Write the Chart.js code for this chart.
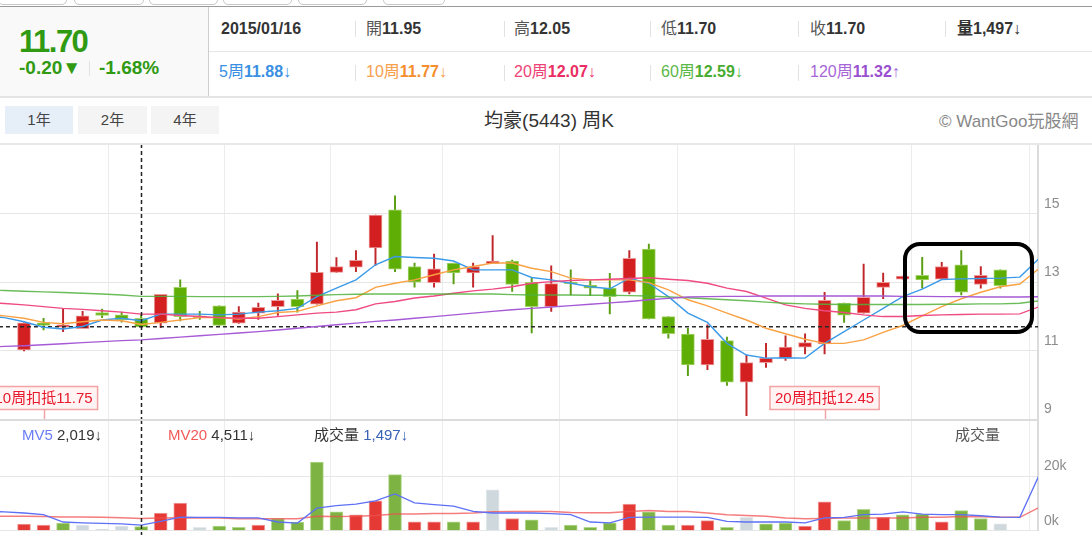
<!DOCTYPE html>
<html>
<head>
<meta charset="utf-8">
<title>均豪(5443) 周K</title>
<script src="https://cdn.jsdelivr.net/npm/chart.js@4.4.1/dist/chart.umd.min.js"></script>
<style>
  body { margin: 0; width: 1092px; height: 535px; overflow: hidden; background: #fff; position: relative;
         font-family: "Liberation Sans", Arial, "Noto Sans CJK TC", sans-serif; color: #333; }
  .a { position: absolute; white-space: nowrap; }
  .tab { position: absolute; top: -7px; height: 10px; border: 1px solid #c8c8c8; border-radius: 5px; background: #fff; }
  .sep { position: absolute; width: 1px; background: #e2e2e2; }
  .row1 { top: 19px; height: 20px; line-height: 20px; font-size: 16px; }
  .row2 { top: 62px; height: 20px; line-height: 20px; font-size: 16px; }
  .lbl { color: #555; }
  b { font-weight: bold; }
  .btn { position: absolute; top: 106px; height: 28px; line-height: 28px; text-align: center; font-size: 15px; color: #444; background: #f4f4f4; }
  .vlab { top: 426px; height: 18px; line-height: 18px; font-size: 15px; }
  #price { position: absolute; left: 0; top: 144px; }
  #volume { position: absolute; left: 0; top: 420px; }
</style>
</head>
<body>
<!-- page chrome above the chart -->
<div class="tab" style="left:-2px;width:67px"></div>
<div class="tab" style="left:74px;width:68px"></div>
<div class="tab" style="left:149px;width:67px"></div>
<div class="tab" style="left:223px;width:67px"></div>
<div class="tab" style="left:298px;width:67px"></div>
<div class="tab" style="left:383px;width:60px"></div>
<div class="a" style="left:0;top:6px;width:1092px;height:1px;background:#9a9a9a"></div>
<div class="a" style="left:0;top:7px;width:208px;height:89px;background:#f9f9f9;border-right:1px solid #cfcfcf"></div>
<div class="a" style="left:209px;top:51px;width:883px;height:1px;background:#e6e6e6"></div>
<div class="a" style="left:0;top:96px;width:1092px;height:2px;background:#e4e4e4"></div>

<div class="a" style="left:19px;top:25px;height:34px;line-height:34px;font-size:31px;font-weight:bold;color:#2f9a12;letter-spacing:-1.5px">11.70</div>
<div class="a" style="left:19px;top:57px;height:22px;line-height:22px;font-size:19px;font-weight:bold;color:#2f9a12">-0.20▼</div>
<div class="sep" style="left:89px;top:61px;height:15px"></div>
<div class="a" style="left:99px;top:57px;height:22px;line-height:22px;font-size:19px;font-weight:bold;color:#2f9a12">-1.68%</div>

<div class="sep" style="left:355px;top:21px;height:16px"></div>
<div class="sep" style="left:504px;top:21px;height:16px"></div>
<div class="sep" style="left:650px;top:21px;height:16px"></div>
<div class="sep" style="left:798px;top:21px;height:16px"></div>
<div class="sep" style="left:945px;top:21px;height:16px"></div>
<div class="sep" style="left:355px;top:65px;height:16px"></div>
<div class="sep" style="left:504px;top:65px;height:16px"></div>
<div class="sep" style="left:650px;top:65px;height:16px"></div>
<div class="sep" style="left:798px;top:65px;height:16px"></div>

<div class="a row1" style="left:221px"><b>2015/01/16</b></div>
<div class="a row1" style="left:366px"><span class="lbl">開</span><b>11.95</b></div>
<div class="a row1" style="left:514px"><span class="lbl">高</span><b>12.05</b></div>
<div class="a row1" style="left:661px"><span class="lbl">低</span><b>11.70</b></div>
<div class="a row1" style="left:810px"><span class="lbl">收</span><b>11.70</b></div>
<div class="a row1" style="left:957px"><b>量1,497</b>↓</div>

<div class="a row2" style="left:219px;color:#3a8fe2">5周<b>11.88</b>↓</div>
<div class="a row2" style="left:366px;color:#f7a04e">10周<b style="color:#f58e2c">11.77</b>↓</div>
<div class="a row2" style="left:514px;color:#ee4377">20周<b style="color:#ea2d62">12.07</b>↓</div>
<div class="a row2" style="left:661px;color:#5db84a">60周<b style="color:#48ac30">12.59</b>↓</div>
<div class="a row2" style="left:810px;color:#a766d8">120周<b style="color:#9a4fd0">11.32</b>↑</div>

<div class="btn" style="left:5px;width:68px;background:#e6eef8">1年</div>
<div class="btn" style="left:78px;width:69px">2年</div>
<div class="btn" style="left:151px;width:68px">4年</div>
<div class="a" style="left:449px;width:200px;top:109px;height:24px;line-height:24px;font-size:19px;text-align:center;color:#333">均豪(5443) 周K</div>
<div class="a" style="left:939px;top:111px;height:22px;line-height:22px;font-size:17px;color:#888">© WantGoo玩股網</div>

<canvas id="price" width="1092" height="276"></canvas>
<canvas id="volume" width="1092" height="115"></canvas>

<!-- frame lines of the two panels -->
<div class="a" style="left:0;top:143px;width:1092px;height:2px;background:#e8e8e8"></div>
<div class="a" style="left:0;top:419px;width:1039px;height:2px;background:#dcdcdc"></div>

<div class="a vlab" style="left:22px"><span style="color:#6a7df5">MV5</span> 2,019↓</div>
<div class="a vlab" style="left:168px"><span style="color:#f25a5a">MV20</span> 4,511↓</div>
<div class="a vlab" style="left:314px">成交量 <span style="color:#3a62b5">1,497↓</span></div>
<div class="a vlab" style="left:955px;color:#555">成交量</div>

<!-- hand-drawn highlight from the screenshot -->
<div class="a" style="left:903px;top:242px;width:131px;height:92px;box-sizing:border-box;border:4px solid #000;border-radius:17px"></div>

<script>
// weekly candles, index 0 = first week shown
const weekOpen  = [11.03, 11.82, 11.69, 11.65, 12.12, 12.05, 11.95, 11.81, 12.85, 12.02,
                   12.31, 11.81, 12.10, 12.29, 12.51, 12.36, 13.29, 13.44, 14.00, 15.11,
                   13.46, 12.99, 13.56, 13.27, 13.54, 13.62, 13.00, 12.29, 13.00, 12.92,
                   12.83, 12.71, 13.97, 12.00, 11.49, 10.59, 11.30, 10.09, 10.66, 10.79,
                   11.11, 11.20, 12.39, 12.10, 12.85, 13.09, 13.20, 13.09, 13.51, 12.94, 13.36];
const weekHigh  = [11.82, 11.95, 12.21, 12.15, 12.22, 12.13, 12.05, 12.65, 13.07, 12.15,
                   12.31, 12.29, 12.39, 12.66, 12.76, 14.17, 13.72, 13.92, 14.96, 15.52,
                   13.56, 13.82, 13.56, 13.56, 14.36, 13.65, 13.12, 13.48, 13.36, 13.07,
                   13.26, 13.92, 14.11, 12.00, 11.66, 11.76, 11.40, 10.88, 11.22, 11.44,
                   11.50, 12.71, 12.39, 13.53, 13.27, 13.18, 13.73, 13.58, 13.92, 13.46, 13.36];
const weekLow   = [11.00, 11.61, 11.56, 11.65, 11.97, 11.84, 11.70, 11.68, 11.87, 11.92,
                   11.74, 11.80, 11.92, 12.03, 12.13, 12.36, 13.29, 13.31, 13.49, 13.31,
                   12.86, 12.86, 12.95, 12.86, 13.54, 12.73, 11.52, 12.15, 12.63, 12.61,
                   12.08, 12.66, 11.93, 11.37, 10.28, 10.45, 9.99, 9.11, 10.52, 10.72,
                   10.91, 10.91, 11.83, 12.10, 12.52, 13.09, 12.83, 13.09, 12.63, 12.83, 12.83];
const weekClose = [11.82, 11.74, 11.76, 12.02, 12.03, 11.90, 11.70, 12.65, 12.00, 11.97,
                   11.74, 12.13, 12.27, 12.47, 12.29, 13.29, 13.46, 13.64, 14.96, 13.38,
                   13.00, 13.39, 13.27, 13.46, 13.62, 12.94, 12.29, 12.96, 12.96, 12.83,
                   12.58, 13.70, 11.93, 11.50, 10.59, 11.34, 10.09, 10.66, 10.79, 11.11,
                   11.24, 12.47, 12.04, 12.56, 13.00, 13.18, 13.07, 13.46, 12.71, 13.20, 12.90];

// moving averages, first value belongs to week maFrom
const maFrom = -2;
const ma5   = [12.02, 11.97, 11.85, 11.69, 11.64, 11.71, 11.90, 11.95, 11.88, 12.07, 12.07, 12.07,
               12.05, 12.07, 12.13, 12.17, 12.24, 12.58, 12.83, 13.07, 13.51, 13.75, 13.72, 13.70,
               13.62, 13.36, 13.36, 13.36, 13.14, 13.07, 12.97, 12.87, 12.81, 13.12, 12.97, 12.58,
               12.10, 11.83, 11.22, 10.88, 10.79, 10.80, 10.79, 11.22, 11.56, 11.90, 12.24, 12.58,
               12.80, 13.08, 13.10, 13.11, 13.12, 13.15, 13.70];
const ma10  = [12.06, 12.02, 11.95, 11.83, 11.79, 11.85, 11.90, 11.88, 11.77, 11.83, 11.90, 11.97,
               11.97, 11.93, 12.00, 12.12, 12.15, 12.31, 12.46, 12.55, 12.85, 12.97, 13.07, 13.22,
               13.36, 13.46, 13.56, 13.56, 13.41, 13.31, 13.12, 13.07, 13.07, 13.07, 12.99, 12.78,
               12.49, 12.31, 12.10, 11.90, 11.66, 11.50, 11.34, 11.22, 11.22, 11.32, 11.54, 11.74,
               12.02, 12.29, 12.52, 12.71, 12.87, 12.95, 13.41];
const ma20  = [12.42, 12.38, 12.34, 12.29, 12.24, 12.21, 12.17, 12.13, 12.07, 12.07, 12.03, 12.00,
               11.97, 11.95, 11.95, 12.00, 12.05, 12.10, 12.13, 12.20, 12.37, 12.44, 12.54, 12.60,
               12.68, 12.75, 12.80, 12.87, 12.97, 13.02, 13.05, 13.07, 13.09, 13.11, 13.13, 13.09,
               13.05, 12.97, 12.83, 12.73, 12.54, 12.34, 12.24, 12.17, 12.12, 12.05, 12.00, 12.00,
               12.03, 12.05, 12.06, 12.07, 12.07, 12.08, 12.29];
const ma60  = [12.77, 12.76, 12.74, 12.72, 12.70, 12.68, 12.66, 12.63, 12.59, 12.59, 12.59, 12.58,
               12.58, 12.58, 12.58, 12.59, 12.60, 12.62, 12.64, 12.65, 12.66, 12.66, 12.66, 12.66,
               12.66, 12.66, 12.66, 12.64, 12.63, 12.63, 12.63, 12.62, 12.62, 12.61, 12.60, 12.57,
               12.55, 12.52, 12.49, 12.46, 12.42, 12.39, 12.37, 12.36, 12.35, 12.35, 12.35, 12.35,
               12.35, 12.36, 12.36, 12.37, 12.37, 12.39, 12.46];
const ma120 = [11.10, 11.13, 11.15, 11.18, 11.21, 11.24, 11.27, 11.30, 11.32, 11.36, 11.40, 11.44,
               11.48, 11.52, 11.56, 11.61, 11.66, 11.71, 11.76, 11.81, 11.86, 11.90, 11.95, 12.00,
               12.05, 12.10, 12.15, 12.20, 12.24, 12.28, 12.32, 12.36, 12.40, 12.44, 12.49, 12.53,
               12.57, 12.58, 12.59, 12.59, 12.60, 12.60, 12.60, 12.60, 12.60, 12.60, 12.60, 12.59,
               12.59, 12.58, 12.58, 12.57, 12.57, 12.57, 12.58];

// weekly volume (lots) and its colour class: r = red, g = green, n = grey
const volume = [2450, 2100, 2800, 2100, 600, 1700, 1497, 6500, 10200, 1200,
                1700, 1200, 2100, 4500, 3200, 25200, 6900, 5800, 11000, 20600,
                3300, 3300, 3300, 3300, 15000, 4500, 4000, 1200, 2100, 1200,
                2900, 9800, 6900, 2100, 2100, 3700, 1200, 4900, 2500, 2800,
                1700, 10600, 3700, 7900, 4900, 5800, 6100, 3300, 7400, 4500, 2500];
const volKind = ['r','r','g','n','n','n','g','r','r','n',
                 'g','g','r','g','g','g','g','r','r','g',
                 'r','r','g','r','n','r','g','n','g','g',
                 'g','r','g','g','r','r','g','n','g','g',
                 'r','r','g','g','r','g','g','r','g','g','n'];
const mv5  = [7200, 6900, 6500, 5900, 3200, 2900, 2700, 2500, 2019, 3400, 5000, 4900,
              4900, 4700, 4700, 3200, 2800, 8300, 9200, 9800, 11000, 13500, 10200, 9600,
              9000, 7100, 6500, 6500, 6500, 6300, 5900, 3200, 2900, 4900, 5000, 5000,
              5000, 4900, 3400, 3200, 3200, 3200, 2900, 4700, 4900, 5900, 6100, 6900,
              6100, 5900, 5900, 5500, 5000, 4900, 20600];
const mv20 = [5300, 5300, 5300, 5200, 5000, 5000, 4900, 4800, 4511, 4700, 4800, 4700,
              4700, 4400, 4400, 4400, 4400, 5300, 5200, 5300, 5600, 6100, 6100, 6300,
              6300, 6500, 7000, 7100, 7100, 7100, 6700, 6600, 6600, 7100, 7400, 7100,
              7100, 6500, 5900, 5600, 5300, 4700, 4400, 4500, 4700, 4700, 4700, 4700,
              4900, 4900, 5200, 5100, 4900, 4900, 8600];

const priceTicks = [9, 11, 13, 15];
const volumeTicks = [0, 20000];
// month gridlines, in week units
const gridWeeks = [4.35, 10.25, 15.7, 21.45, 27.42, 33.48, 39.48, 45.47, 51.5];
const hoverWeek = 6;
const lastClose = 11.70;
const deductWeeks = [1, 41];
const deductText = ['10周扣抵11.75', '20周扣抵12.45'];

Chart.defaults.font.family = '"Liberation Sans", Arial, "Noto Sans CJK TC", sans-serif';

const weeks = weekOpen.map((_, i) => i);
const isUp = weeks.map(i => weekClose[i] >= weekOpen[i]);
const pts = (arr, from) => arr.map((v, i) => ({ x: i + from, y: v }));

// no label padding around the plot: the panels must fill their canvases
const noPad = (s) => {
    s.paddingTop = 0;
    s.paddingBottom = 0;
    s.paddingLeft = 0;
    s.paddingRight = 0;
};

const xAxis = {
    type: 'linear',
    min: -1.23,
    max: 51.93,
    offset: false,
    afterBuildTicks: (s) => { s.ticks = gridWeeks.map(v => ({ value: v })); },
    afterFit: (s) => { s.height = 0; noPad(s); },
    ticks: { display: false },
    grid: { color: '#ececec', drawTicks: false, offset: false },
    border: { display: false },
};

const crosshair = {
    id: 'crosshair',
    afterDatasetsDraw(chart) {
        const ctx = chart.ctx;
        const x = Math.round(chart.scales.x.getPixelForValue(hoverWeek)) + 0.5;
        ctx.save();
        ctx.strokeStyle = '#222';
        ctx.lineWidth = 1.5;
        ctx.setLineDash([4, 3]);
        ctx.beginPath();
        ctx.moveTo(x, 0);
        ctx.lineTo(x, chart.height);
        ctx.stroke();
        ctx.restore();
    },
};

// "扣抵" boxes pinned to a week at the bottom of the price panel
const deductLabels = {
    id: 'deductLabels',
    afterDatasetsDraw(chart) {
        const { ctx, chartArea } = chart;
        ctx.save();
        ctx.font = '15px "Liberation Sans", Arial, "Noto Sans CJK TC", sans-serif';
        deductWeeks.forEach((w, i) => {
            const cx = chart.scales.x.getPixelForValue(w);
            const bw = ctx.measureText(deductText[i]).width + 10;
            const top = chartArea.bottom - 33;
            const h = 23;
            ctx.fillStyle = '#fff3f3';
            ctx.fillRect(cx - bw / 2, top, bw, h);
            ctx.strokeStyle = '#f3a3a3';
            ctx.lineWidth = 1.5;
            ctx.strokeRect(cx - bw / 2, top, bw, h);
            ctx.beginPath();
            ctx.moveTo(Math.round(cx) + 0.5, top + h);
            ctx.lineTo(Math.round(cx) + 0.5, chartArea.bottom);
            ctx.stroke();
            ctx.fillStyle = '#e8192c';
            ctx.textAlign = 'center';
            ctx.textBaseline = 'middle';
            ctx.fillText(deductText[i], cx, top + h / 2 + 1);
        });
        ctx.restore();
    },
};

const maLine = (label, arr, color) => ({
    type: 'line',
    label: label,
    data: pts(arr, maFrom),
    borderColor: color,
    borderWidth: 1.4,
    pointRadius: 0,
    tension: 0,
    order: 0,
});

new Chart(document.getElementById('price'), {
    type: 'bar',
    data: {
        datasets: [
            maLine('MA120', ma120, '#a65ad6'),
            maLine('MA60', ma60, 'rgba(80,178,60,0.85)'),
            maLine('MA20', ma20, '#ef4a82'),
            maLine('MA10', ma10, '#f9a245'),
            maLine('MA5', ma5, '#3c9be8'),
            {
                type: 'line',
                label: 'last',
                data: [{ x: -2, y: lastClose }, { x: 53, y: lastClose }],
                borderColor: '#2a2a2a',
                borderWidth: 1.5,
                borderDash: [4, 3],
                pointRadius: 0,
                order: 0,
            },
            {
                label: 'body',
                data: weeks.map(i => ({ x: i, y: [weekOpen[i], weekClose[i]] })),
                backgroundColor: weeks.map(i => isUp[i] ? '#d31f1f' : '#5fae06'),
                borderColor: weeks.map(i => isUp[i] ? '#ec9a9a' : '#a6d46c'),
                borderWidth: 1,
                borderSkipped: false,
                barThickness: 13,
                grouped: false,
                order: 1,
            },
            {
                label: 'wick',
                data: weeks.map(i => ({ x: i, y: [weekLow[i], weekHigh[i]] })),
                backgroundColor: weeks.map(i => isUp[i] ? '#c0272a' : '#5a9e14'),
                barThickness: 1.3,
                grouped: false,
                order: 2,
            },
        ],
    },
    options: {
        responsive: false,
        animation: false,
        events: [],
        layout: { padding: { top: 0, bottom: 0.5, left: 0, right: 0 } },
        plugins: { legend: { display: false }, tooltip: { enabled: false } },
        scales: {
            x: xAxis,
            y: {
                position: 'right',
                min: 9,
                max: 17.03,
                afterBuildTicks: (s) => { s.ticks = priceTicks.map(v => ({ value: v })); },
                afterFit: (s) => { s.width = 54; noPad(s); },
                ticks: { color: '#8c8c8c', font: { size: 14 }, padding: 6, labelOffset: -10 },
                grid: { color: '#e6e6e6', drawTicks: false },
                border: { display: true, color: '#dcdcdc', width: 2 },
            },
        },
    },
    plugins: [deductLabels, crosshair],
});

new Chart(document.getElementById('volume'), {
    type: 'bar',
    data: {
        datasets: [
            {
                type: 'line',
                label: 'MV5',
                data: pts(mv5, maFrom),
                borderColor: '#5d70f6',
                borderWidth: 1.3,
                pointRadius: 0,
                order: 0,
            },
            {
                type: 'line',
                label: 'MV20',
                data: pts(mv20, maFrom),
                borderColor: 'rgba(240,80,80,0.75)',
                borderWidth: 1.5,
                pointRadius: 0,
                order: 0,
            },
            {
                label: 'volume',
                data: weeks.map(i => ({ x: i, y: volume[i] })),
                backgroundColor: volKind.map(k => k === 'r' ? '#e53935' : k === 'g' ? '#7cb342' : '#cfd8dc'),
                borderColor: volKind.map(k => k === 'r' ? '#f0a0a0' : k === 'g' ? '#b5d98e' : '#e3e9ec'),
                borderWidth: 1,
                borderSkipped: 'bottom',
                barThickness: 13,
                grouped: false,
                order: 1,
            },
        ],
    },
    options: {
        responsive: false,
        animation: false,
        events: [],
        layout: { padding: { top: 0, bottom: 4.3, left: 0, right: 0 } },
        plugins: { legend: { display: false }, tooltip: { enabled: false } },
        scales: {
            x: xAxis,
            y: {
                position: 'right',
                min: 0,
                max: 40700,
                afterBuildTicks: (s) => { s.ticks = volumeTicks.map(v => ({ value: v })); },
                afterFit: (s) => { s.width = 54; noPad(s); },
                ticks: {
                    color: '#8c8c8c', font: { size: 14 }, padding: 6, labelOffset: -10,
                    callback: (v) => (v / 1000) + 'k',
                },
                grid: { color: '#e6e6e6', drawTicks: false },
                border: { display: true, color: '#dcdcdc', width: 2 },
            },
        },
    },
    plugins: [crosshair],
});
</script>
</body>
</html>
